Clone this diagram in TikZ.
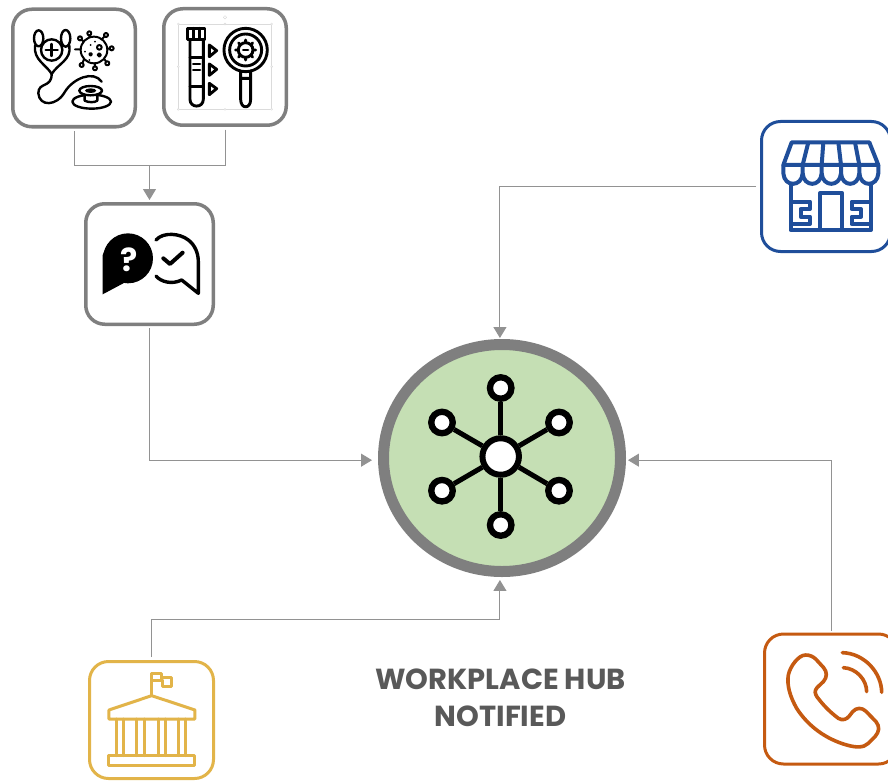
\documentclass[tikz,border=0pt]{standalone}
\usepackage{fontspec}
\setmainfont{Poppins}
\usetikzlibrary{arrows.meta,shapes.geometric}
\definecolor{hubgray}{HTML}{7F7F7F}
\definecolor{hubgreen}{HTML}{C5DFB4}
\definecolor{hubtext}{HTML}{595959}
\definecolor{shopblue}{HTML}{1F4E9A}
\definecolor{govgold}{HTML}{E2B449}
\definecolor{phoneorange}{HTML}{C55A11}
\tikzset{
  tile/.style={draw,rectangle,rounded corners=19pt,fill=white,inner sep=0pt,line width=3.5pt},
  link/.style={draw=hubgray!85,line width=1pt,-{Triangle[length=11pt,width=13pt]}},
  plainlink/.style={draw=hubgray!85,line width=1pt},
  netleaf/.style={draw=black,circle,fill=white,inner sep=0pt,line width=6.3pt,minimum size=21.5pt},
  netmid/.style={draw=black,circle,fill=white,inner sep=0pt,line width=6pt,minimum size=36.5pt},
  zoomed/.style={x=.3333pt,y=-.3333pt},
  icon/.style={line width=2.9pt,line join=round,line cap=round},
  grip/.style={draw=black!14,fill=white,line width=.4pt}
}
\begin{document}
\begin{tikzpicture}[x=1pt,y=-1pt]
  \useasboundingbox (0,0) rectangle (888,781);

  \node[tile,draw=hubgray,minimum width=122.5pt,minimum height=117.5pt] (steth) at (74,68) {};
  \node[tile,draw=hubgray,minimum width=122.5pt,minimum height=116.5pt] (tube) at (225,67) {};
  \node[tile,draw=hubgray,minimum width=127.5pt,minimum height=120.5pt] (chat) at (149.5,264) {};
  \node[tile,draw=shopblue,line width=3pt,minimum width=129pt,minimum height=130pt] (shop) at (826,186.5) {};
  \node[tile,draw=govgold,line width=3pt,minimum width=124pt,minimum height=117pt] (gov) at (151.5,720) {};
  \node[tile,draw=phoneorange,line width=3pt,minimum width=133pt,minimum height=130pt] (phone) at (831,699) {};
  \node[draw=hubgray,fill=hubgreen,ellipse,inner sep=0pt,line width=11pt,minimum width=237pt,minimum height=227pt] (hub) at (502,458) {};
  \coordinate (join) at (149.5,165);

  \draw[plainlink,shorten <=2.5pt] (steth.south) |- (join);
  \draw[plainlink,shorten <=2.5pt] (tube.south) |- (join);
  \draw[link,shorten >=2pt] (join) -- (chat.north);
  \draw[link,shorten <=2pt,shorten >=6pt] (chat.south) |- (hub.181);
  \draw[link,shorten <=4pt,shorten >=1pt] (shop.west) -| (hub.91);
  \draw[link,shorten <=3pt,shorten >=3pt] (gov.north) -- ++(0,-41) -| (hub.269);
  \draw[link,shorten <=2pt,shorten >=2pt] (phone.north) |- (hub.-1);

  \draw
    (500.7,456.5) node[netmid] (net) {}
    (500.7,388) node[netleaf] (net0) {}
    (559,422.5) node[netleaf] (net1) {}
    (559,490.7) node[netleaf] (net2) {}
    (500.7,525) node[netleaf] (net3) {}
    (442,490.7) node[netleaf] (net4) {}
    (442,422.5) node[netleaf] (net5) {};
  \begin{scope}[line width=5pt]
    \draw (net) to (net0);
    \draw (net) to (net1);
    \draw (net) to (net2);
    \draw (net) to (net3);
    \draw (net) to (net4);
    \draw (net) to (net5);
  \end{scope}

  \node[text=hubtext,align=center,font=\bfseries\fontsize{29}{37}\selectfont,inner sep=0pt] (title) at (500.5,697.5) {WORKPLACE HUB\\NOTIFIED};

  \begin{scope}[zoomed,icon,line width=2.4pt]
    \draw (116,115) ellipse [x radius=14,y radius=24];
    \draw (197,115) ellipse [x radius=14,y radius=25];
    \draw (155,150) circle (32);
    \draw (155,132) -- (155,168) (137,150) -- (173,150);
    \draw (105,137) .. controls (100,180) and (140,195) .. (155,222) .. controls (175,190) and (215,180) .. (208,137);
    \draw (155,222) .. controls (155,265) and (115,245) .. (115,280) .. controls (118,320) and (170,320) .. (195,275) .. controls (220,235) and (280,210) .. (305,245);
    \draw (275,305) ellipse [x radius=58,y radius=21];
    \draw[fill=white] (254,284) -- (254,302) .. controls (265,308) and (285,308) .. (292,302) -- (292,284);
    \draw[fill=white] (272,272) ellipse [x radius=34,y radius=14];
    \fill (272,272) ellipse [x radius=17,y radius=7];
    \draw[line width=2pt] (282,150) circle (40);
    \draw[line width=2pt] (268,110) -- (268,100) (305,118) -- (318,105) (322,146) -- (335,145) (312,176) -- (322,190) (285,190) -- (285,205) (252,178) -- (245,195) (242,148) -- (225,148) (250,124) -- (240,115);
    \draw[line width=2pt,fill=white] (268,100) circle (6) (318,105) circle (6) (335,145) circle (6) (322,190) circle (6) (285,205) circle (6) (245,195) circle (6) (240,115) circle (6);
    \draw[line width=2pt] (298,142) circle (7) (272,163) circle (4) (298,165) circle (5);
    \fill (272,135) circle (3) (255,155) circle (3) (285,125) circle (3) (268,180) circle (3);
  \end{scope}

  \begin{scope}[zoomed]
    \draw[black!14,line width=.4pt] (535,72) rectangle (815,328);
    \draw[grip] (535,72) circle (3) (675,72) circle (3) (815,72) circle (3) (535,200) circle (3) (815,200) circle (3) (535,328) circle (3) (675,328) circle (3) (815,328) circle (3) (675,52) circle (5);
  \end{scope}
  \begin{scope}[zoomed,icon]
    \draw (563,85) rectangle (615,118);
    \draw (581,85) -- (581,118) (598,85) -- (598,118);
    \draw (570,118) -- (570,298) .. controls (570,325) and (610,325) .. (610,298) -- (610,118);
    \draw (570,172) -- (610,172) (570,260) -- (610,260) (580,192) -- (600,192) (580,210) -- (600,210);
    \draw (628,135) -- (650,152) -- (628,170) -- cycle;
    \draw (628,192) -- (650,208) -- (628,226) -- cycle;
    \draw (628,250) -- (650,266) -- (628,284) -- cycle;
    \draw (737,150) circle (65) (737,150) circle (48);
    \draw (722,213) -- (722,298) .. controls (722,328) and (752,328) .. (752,298) -- (752,213) (722,235) -- (752,235);
    \draw (737,150) circle (22);
    \draw (737,120) -- (737,128) (737,172) -- (737,180) (707,150) -- (715,150) (759,150) -- (767,150) (716,129) -- (721,134) (758,129) -- (753,134) (716,171) -- (721,166) (758,171) -- (753,166);
    \draw (730,150) -- (744,150);
  \end{scope}

  \begin{scope}[shift={(70,190)},zoomed]
    \fill (174,205) circle (75);
    \fill (110,170) -- (98,195) -- (98,313) -- (175,272) -- cycle;
    \node[text=white,font=\bfseries\fontsize{32}{32}\selectfont,inner sep=0pt] (quest) at (177,208) {?};
    \begin{scope}[icon,line width=3.4pt]
      \draw (258,150) .. controls (280,125) and (330,130) .. (355,150) .. controls (375,165) and (385,190) .. (385,215) -- (385,310) -- (335,270) .. controls (305,285) and (272,275) .. (258,258);
      \draw[line width=4pt] (280,205) -- (300,222) -- (338,188);
    \end{scope}
  \end{scope}

  \begin{scope}[shift={(740,110)},zoomed,icon,shopblue,line width=4pt,line cap=butt]
    \draw (155,97) -- (388,97) -- (415,165) -- (130,165) -- cycle;
    \draw (205,97) -- (188,165) (250,97) -- (245,165) (295,97) -- (303,165) (345,97) -- (358,165);
    \draw (130,165) -- (130,190) .. controls (133,232) and (185,232) .. (188,190) -- (188,165);
    \draw (188,190) .. controls (191,232) and (242,232) .. (245,190) -- (245,165);
    \draw (245,190) .. controls (248,232) and (300,232) .. (303,190) -- (303,165);
    \draw (303,190) .. controls (306,232) and (355,232) .. (358,190) -- (358,165);
    \draw (358,190) .. controls (361,232) and (412,232) .. (415,190) -- (415,165);
    \draw (152,215) -- (152,360) -- (393,360) -- (393,215);
    \draw (240,360) -- (240,250) -- (307,250) -- (307,360);
    \draw (152,275) -- (210,275) -- (210,297) -- (182,297) -- (182,320) -- (210,320) -- (210,342) -- (152,342);
    \draw (393,275) -- (335,275) -- (335,297) -- (363,297) -- (363,320) -- (335,320) -- (335,342) -- (393,342);
  \end{scope}

  \begin{scope}[shift={(70,640)},zoomed,icon,govgold,line width=3pt]
    \draw (245,165) -- (245,100) -- (275,100) -- (275,120) -- (245,120);
    \draw (275,113) -- (306,113) -- (306,138) -- (278,138) -- (278,120);
    \draw (245,167) -- (375,210) -- (375,237) -- (117,237) -- (117,210) -- cycle;
    \draw (140,237) -- (140,347) (162,237) -- (162,347) (200,237) -- (200,347) (225,237) -- (225,347) (265,237) -- (265,347) (288,237) -- (288,347) (325,237) -- (325,347) (348,237) -- (348,347);
    \draw (117,347) rectangle (375,378);
  \end{scope}

  \begin{scope}[shift={(740,620)},zoomed,icon,phoneorange,line width=3.6pt]
    \draw (197,105) .. controls (210,105) and (220,110) .. (228,118) -- (250,142) .. controls (262,155) and (262,172) .. (250,185) -- (232,202) .. controls (222,212) and (225,222) .. (232,232) .. controls (250,255) and (265,272) .. (295,295) .. controls (308,303) and (320,298) .. (328,288) -- (338,275) .. controls (350,262) and (365,262) .. (378,274) -- (408,305) .. controls (420,320) and (418,335) .. (405,350) -- (385,370) .. controls (370,385) and (345,382) .. (320,375) .. controls (260,358) and (205,320) .. (170,265) .. controls (150,230) and (140,195) .. (145,165) .. controls (150,140) and (175,105) .. (197,105) -- cycle;
    \draw (307,98) .. controls (375,100) and (425,160) .. (425,217);
    \draw (310,143) .. controls (350,145) and (380,180) .. (380,215);
  \end{scope}
\end{tikzpicture}
\end{document}
